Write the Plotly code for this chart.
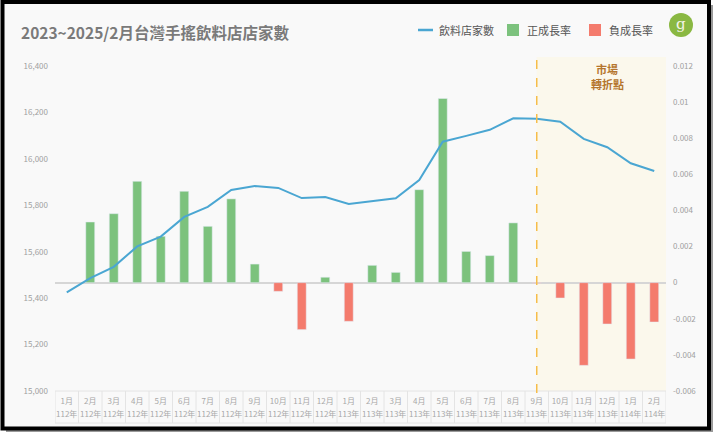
import plotly.graph_objects as go

# ---------------- data ----------------
months = ["1月", "2月", "3月", "4月", "5月", "6月", "7月", "8月", "9月", "10月", "11月", "12月",
          "1月", "2月", "3月", "4月", "5月", "6月", "7月", "8月", "9月", "10月", "11月", "12月",
          "1月", "2月"]
years = ["112年"] * 12 + ["113年"] * 12 + ["114年"] * 2

store_counts = [15425, 15486, 15535, 15623, 15665, 15750, 15793, 15866, 15883, 15875,
                15831, 15836, 15806, 15819, 15830, 15909, 16074, 16099, 16125, 16175,
                16173, 16160, 16086, 16050, 15981, 15948]

growth_rate = [0.0, 0.00336, 0.00382, 0.00561, 0.00257, 0.00506, 0.00312, 0.00464,
               0.00103, -0.00048, -0.0026, 0.0003, -0.00214, 0.00096, 0.00057, 0.00515,
               0.0102, 0.00173, 0.0015, 0.00331, -0.00003, -0.00085, -0.00458, -0.00229,
               -0.00423, -0.00218]

left_ticks = [15000, 15200, 15400, 15600, 15800, 16000, 16200, 16400]
right_ticks = [-0.006, -0.004, -0.002, 0, 0.002, 0.004, 0.006, 0.008, 0.01, 0.012]
right_ticktext = ["-0.006", "-0.004", "-0.002", "0", "0.002", "0.004", "0.006", "0.008", "0.01", "0.012"]

series_names = ["飲料店家數", "正成長率", "負成長率"]
title_text = "2023~2025/2月台灣手搖飲料店店家數"
turn_label_lines = ["市場", "轉折點"]
turn_category_index = 20

categories = [f"{y}{m}" for m, y in zip(months, years)]
pos_rate = [v if v > 0 else None for v in growth_rate]
neg_rate = [v if v < 0 else None for v in growth_rate]

# ---------------- layout geometry (pixels) ----------------
W, H = 720, 441
PL, PR, PT, PB = 55, 666, 66, 391
pw, ph = PR - PL, PB - PT


def px(x):
    return (x - PL) / pw


def py(y):
    return (PB - y) / ph


FONT = "Noto Sans CJK TC, Noto Sans, sans-serif"
GREEN = "#7cc27d"
RED = "#f47b6d"
BLUE = "#4aa6d2"

fig = go.Figure()

fig.add_trace(go.Bar(x=categories, y=pos_rate, name=series_names[1], marker_color=GREEN, yaxis="y"))
fig.add_trace(go.Bar(x=categories, y=neg_rate, name=series_names[2], marker_color=RED, yaxis="y"))
fig.add_trace(go.Scatter(x=categories, y=store_counts, name=series_names[0], mode="lines",
                         line=dict(color=BLUE, width=2), yaxis="y2"))

shapes = []
# shadow + frame + background
shapes.append(dict(type="rect", xref="paper", yref="paper", x0=px(6), x1=px(713), y0=py(432), y1=py(5),
                   fillcolor="#9a9a9a", line=dict(width=0), layer="below"))
shapes.append(dict(type="rect", xref="paper", yref="paper", x0=px(2.5), x1=px(709), y0=py(428.5), y1=py(2),
                   fillcolor="#f9f9f9", line=dict(color="#000000", width=4), layer="below"))
# highlighted region
shapes.append(dict(type="rect", xref="x", yref="paper", x0=turn_category_index, x1=len(categories) - 0.5,
                   y0=0, y1=py(57), fillcolor="#fbf8ec", line=dict(width=0), layer="below"))
# category cells
cell_bottom = py(423)
for i in range(len(categories) + 1):
    shapes.append(dict(type="line", xref="x", yref="paper", x0=i - 0.5, x1=i - 0.5,
                       y0=cell_bottom, y1=0, line=dict(color="#e4e4e4", width=1)))
shapes.append(dict(type="line", xref="x", yref="paper", x0=-0.5, x1=len(categories) - 0.5,
                   y0=0, y1=0, line=dict(color="#e4e4e4", width=1)))
shapes.append(dict(type="line", xref="x", yref="paper", x0=-0.5, x1=len(categories) - 0.5,
                   y0=cell_bottom, y1=cell_bottom, line=dict(color="#e4e4e4", width=1)))
# dashed turning line
shapes.append(dict(type="line", xref="x", yref="paper", x0=turn_category_index, x1=turn_category_index,
                   y0=py(393), y1=py(57), line=dict(color="#f6bd4a", width=1.5, dash="dash"), layer="above"))
# logo
shapes.append(dict(type="circle", xref="paper", yref="paper", x0=px(669), x1=px(693), y0=py(37), y1=py(13),
                   fillcolor="#8ab842", line=dict(width=0)))
# manual legend symbols
shapes.append(dict(type="line", xref="paper", yref="paper", x0=px(418), x1=px(433), y0=py(30), y1=py(30),
                   line=dict(color=BLUE, width=2.5)))
shapes.append(dict(type="rect", xref="paper", yref="paper", x0=px(507), x1=px(519), y0=py(36), y1=py(24),
                   fillcolor=GREEN, line=dict(width=0)))
shapes.append(dict(type="rect", xref="paper", yref="paper", x0=px(589), x1=px(601), y0=py(36), y1=py(24),
                   fillcolor=RED, line=dict(width=0)))

annotations = [
    dict(text=title_text, xref="paper", yref="paper", x=px(19), y=py(32), xanchor="left", yanchor="middle",
         showarrow=False, font=dict(family=FONT, size=15.5, color="#7a7a7a", weight="bold")),
    dict(text=turn_label_lines[0], xref="x", yref="paper", x=23, y=py(69), xanchor="center",
         yanchor="middle", showarrow=False, font=dict(family=FONT, size=11, color="#b5762e", weight="bold")),
    dict(text=turn_label_lines[1], xref="x", yref="paper", x=23, y=py(84), xanchor="center",
         yanchor="middle", showarrow=False, font=dict(family=FONT, size=11, color="#b5762e", weight="bold")),
    dict(text="g", xref="paper", yref="paper", x=px(681), y=py(24), xanchor="center", yanchor="middle",
         showarrow=False, font=dict(family="DejaVu Serif, serif", size=15, color="#f4f4e8")),
]
for name, xpix in zip(series_names, [437, 525, 607]):
    annotations.append(dict(text=name, xref="paper", yref="paper", x=px(xpix), y=py(30), xanchor="left",
                            yanchor="middle", showarrow=False,
                            font=dict(family=FONT, size=11, color="#555555")))
# year row of category cells
for c, y in zip(categories, years):
    annotations.append(dict(text=y, xref="x", yref="paper", x=c, y=py(413), xanchor="center",
                            yanchor="middle", showarrow=False,
                            font=dict(family=FONT, size=8, color="#a8a8a8")))

fig.update_layout(
    width=W, height=H,
    margin=dict(l=PL, r=W - PR, t=PT, b=H - PB, pad=0),
    paper_bgcolor="#ffffff", plot_bgcolor="rgba(0,0,0,0)",
    barmode="relative", bargap=0.62,
    font=dict(family=FONT, color="#555555"),
    showlegend=False,
    xaxis=dict(type="category", showgrid=False, zeroline=False, showline=False, ticks="",
               tickvals=categories, ticktext=months, ticklabelstandoff=4,
               tickfont=dict(size=8, color="#a8a8a8"), tickangle=0, range=[-0.5, len(categories) - 0.5]),
    yaxis=dict(side="right", range=[-0.006, 0.012], tickvals=right_ticks, ticktext=right_ticktext,
               showgrid=False, zeroline=True, zerolinecolor="#d6d6d6", zerolinewidth=1.5,
               showline=False, ticks="", tickfont=dict(size=8, color="#a0a0a0"), ticklabelstandoff=6),
    yaxis2=dict(side="left", overlaying="y", range=[15000, 16400], tickvals=left_ticks, tickformat=",",
                showgrid=False, zeroline=False, showline=False, ticks="",
                tickfont=dict(size=8, color="#a0a0a0"), ticklabelstandoff=6),
    shapes=shapes,
    annotations=annotations,
)

fig.write_html("out.html", config={"displayModeBar": False},
               post_script="document.body.style.margin='0';document.body.style.overflow='hidden';")
